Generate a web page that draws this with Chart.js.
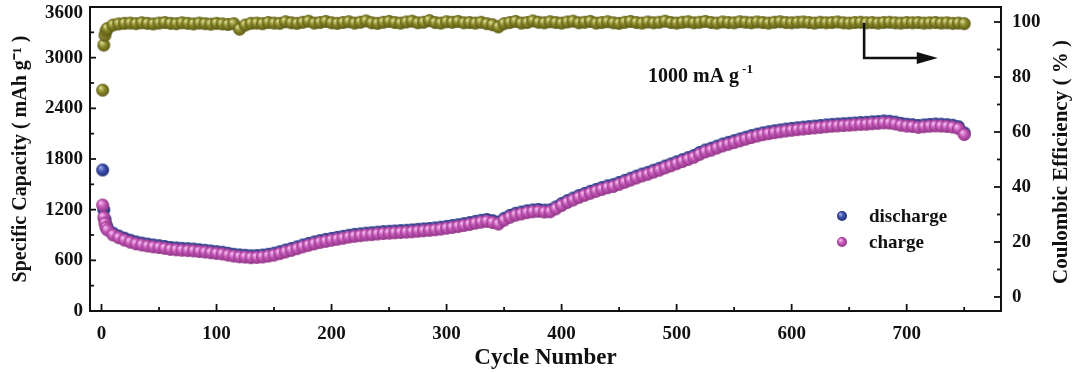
<!DOCTYPE html>
<html>
<head>
<meta charset="utf-8">
<script src="https://cdn.jsdelivr.net/npm/chart.js@4.4.1/dist/chart.umd.min.js"></script>
<style>
  html, body { margin: 0; padding: 0; background: #fff; }
  #wrap { width: 1080px; height: 372px; }
</style>
</head>
<body>
<div id="wrap"><canvas id="cycleChart"></canvas></div>
<script>
const cycles = [1, 2, 3, 4, 5,
  10, 15, 20, 25, 30, 35, 40, 45, 50, 55,
  60, 65, 70, 75, 80, 85, 90, 95, 100, 105,
  110, 115, 120, 125, 130, 135, 140, 145, 150, 155,
  160, 165, 170, 175, 180, 185, 190, 195, 200, 205,
  210, 215, 220, 225, 230, 235, 240, 245, 250, 255,
  260, 265, 270, 275, 280, 285, 290, 295, 300, 305,
  310, 315, 320, 325, 330, 335, 340, 345, 350, 355,
  360, 365, 370, 375, 380, 385, 390, 395, 400, 405,
  410, 415, 420, 425, 430, 435, 440, 445, 450, 455,
  460, 465, 470, 475, 480, 485, 490, 495, 500, 505,
  510, 515, 520, 525, 530, 535, 540, 545, 550, 555,
  560, 565, 570, 575, 580, 585, 590, 595, 600, 605,
  610, 615, 620, 625, 630, 635, 640, 645, 650, 655,
  660, 665, 670, 675, 680, 685, 690, 695, 700, 705,
  710, 715, 720, 725, 730, 735, 740, 745, 750];

// mAh g-1
const dischargeCap = [1670, 1200, 1085, 1020, 985,
  922, 888, 862, 838, 818, 804, 792, 782, 774, 764,
  752, 747, 742, 738, 733, 726, 719, 711, 703, 696,
  684, 672, 664, 660, 654, 657, 662, 672, 684, 702,
  722, 740, 760, 782, 800, 818, 834, 848, 860, 872,
  884, 897, 907, 914, 922, 927, 934, 940, 944, 948,
  952, 956, 960, 967, 972, 977, 984, 992, 1002, 1012,
  1022, 1034, 1047, 1062, 1074, 1084, 1070, 1052, 1097, 1132,
  1157, 1172, 1187, 1197, 1202, 1194, 1197, 1232, 1272, 1307,
  1337, 1367, 1392, 1417, 1440, 1462, 1482, 1497, 1522, 1547,
  1572, 1597, 1622, 1642, 1667, 1690, 1717, 1742, 1767, 1792,
  1817, 1842, 1877, 1907, 1927, 1952, 1977, 1997, 2017, 2037,
  2057, 2077, 2094, 2110, 2122, 2134, 2144, 2154, 2162, 2170,
  2177, 2184, 2190, 2197, 2204, 2210, 2214, 2218, 2222, 2227,
  2232, 2234, 2240, 2244, 2250, 2247, 2237, 2222, 2212, 2207,
  2197, 2204, 2210, 2214, 2212, 2207, 2200, 2182, 2110];

const chargeCap = [1255, 1110, 1040, 990, 960,
  900, 868, 840, 815, 795, 782, 770, 760, 752, 742,
  730, 725, 720, 716, 712, 705, 698, 690, 682, 675,
  662, 650, 642, 638, 632, 635, 640, 650, 662, 680,
  700, 718, 738, 760, 778, 795, 812, 825, 838, 850,
  862, 875, 885, 892, 900, 905, 912, 918, 922, 926,
  930, 934, 938, 945, 950, 955, 962, 970, 980, 990,
  1000, 1012, 1025, 1040, 1052, 1062, 1048, 1030, 1075, 1110,
  1135, 1150, 1165, 1175, 1180, 1172, 1175, 1210, 1250, 1285,
  1315, 1345, 1370, 1395, 1418, 1440, 1460, 1475, 1500, 1525,
  1550, 1575, 1600, 1620, 1645, 1668, 1695, 1720, 1745, 1770,
  1795, 1820, 1855, 1885, 1905, 1930, 1955, 1975, 1995, 2015,
  2035, 2055, 2072, 2088, 2100, 2112, 2122, 2132, 2140, 2148,
  2155, 2162, 2168, 2175, 2182, 2188, 2192, 2196, 2200, 2205,
  2210, 2212, 2218, 2222, 2228, 2225, 2215, 2200, 2190, 2185,
  2175, 2182, 2188, 2192, 2190, 2185, 2178, 2160, 2090];

// coulombic efficiency, %
const efficiency = [75.2, 91.6, 95.2, 96.8, 97.6,
  98.9, 99.3, 99.5, 99.6, 99.4, 99.7, 99.5, 99.3, 99.6, 99.8,
  99.5, 99.4, 99.7, 99.5, 99.3, 99.6, 99.4, 99.2, 99.5, 99.3,
  99.1, 99.4, 97.4, 98.9, 99.5, 99.6, 99.4, 99.8, 99.6, 99.5,
  100.1, 99.7, 99.5, 99.9, 100.3, 99.6, 99.8, 100.2, 99.7, 99.5,
  99.8, 100.1, 99.6, 99.9, 100.4, 99.7, 99.5, 99.9, 100.2, 99.8,
  99.6, 100.0, 100.3, 99.7, 99.9, 100.5, 99.8, 99.6, 100.1, 99.9,
  100.2, 99.7, 99.8, 99.6, 99.9, 99.4, 99.0, 98.2, 99.4, 99.8,
  100.2, 99.6, 99.8, 100.4, 99.9, 99.7, 100.1, 99.8, 99.6, 100.0,
  100.3, 99.7, 99.9, 100.2, 99.6, 99.8, 100.1, 99.7, 99.5, 99.9,
  100.2, 99.8, 99.6, 100.0, 99.7, 99.9, 100.3, 99.8, 99.6, 99.9,
  100.1, 99.7, 99.9, 100.2, 99.8, 99.6, 100.0, 99.8, 99.7, 100.1,
  99.9, 99.7, 100.0, 99.8, 99.6, 99.9, 100.1, 99.8, 99.7, 99.9,
  100.0, 99.8, 99.6, 99.9, 99.7, 99.8, 100.0, 99.7, 99.6, 99.8,
  99.9, 99.7, 99.8, 99.6, 99.8, 99.9, 99.7, 99.6, 99.8, 99.7,
  99.8, 99.6, 99.7, 99.8, 99.6, 99.7, 99.5, 99.6, 99.4];

const xTicks = [0, 100, 200, 300, 400, 500, 600, 700];
const xMinorTicks = [50, 150, 250, 350, 450, 550, 650, 750];
const capTicks = [0, 600, 1200, 1800, 2400, 3000, 3600];
const capMinorTicks = [300, 900, 1500, 2100, 2700, 3300];
const ceTicks = [0, 20, 40, 60, 80, 100];
const ceMinorTicks = [10, 30, 50, 70, 90];

const FONT = '"Liberation Serif", "Times New Roman", serif';

// shaded ball used as point marker
function makeBall(light, base, dark, r) {
    const size = Math.ceil(r * 2 + 2);
    const c = document.createElement('canvas');
    c.width = size; c.height = size;
    const g = c.getContext('2d');
    const cx = size / 2, cy = size / 2;
    const grad = g.createRadialGradient(cx - r * 0.35, cy - r * 0.4, r * 0.1, cx, cy, r);
    grad.addColorStop(0, light);
    grad.addColorStop(0.45, base);
    grad.addColorStop(1, dark);
    g.fillStyle = grad;
    g.beginPath();
    g.arc(cx, cy, r, 0, Math.PI * 2);
    g.fill();
    return c;
}

const blueBall = makeBall('#9aa6e6', '#3f54b0', '#1f2c74', 6.5);
const pinkBall = makeBall('#f2b8ec', '#c95bbb', '#8e3384', 6.5);
const oliveBall = makeBall('#d6d68a', '#8d8c2c', '#5a5914', 6.5);
const blueSmall = makeBall('#9aa6e6', '#3f54b0', '#1f2c74', 5);
const pinkSmall = makeBall('#f2b8ec', '#c95bbb', '#8e3384', 5);

function toPoints(ys) {
    return cycles.map((c, i) => ({ x: c, y: ys[i] }));
}

function fixedTicks(values) {
    return function(scale) {
        scale.ticks = values.map(v => ({ value: v }));
    };
}

// keep the plot box where the figure has it, labels may hang over
function noPad(scale) {
    scale.paddingTop = 0;
    scale.paddingBottom = 0;
    scale.paddingLeft = 0;
    scale.paddingRight = 0;
}

// frame, inward tick marks, legend and annotation
const decorations = {
    id: 'decorations',
    afterDraw(chart) {
        const { ctx, chartArea: a, scales } = chart;
        const x = scales.x, y = scales.y, y2 = scales.y2;
        ctx.save();
        ctx.strokeStyle = '#111';
        ctx.lineWidth = 2;
        ctx.strokeRect(a.left, a.top, a.right - a.left, a.bottom - a.top);

        ctx.lineWidth = 1.8;
        function seg(x1, y1, x2, y2p) {
            ctx.beginPath();
            ctx.moveTo(x1, y1);
            ctx.lineTo(x2, y2p);
            ctx.stroke();
        }
        xTicks.forEach(v => { const p = x.getPixelForValue(v); seg(p, a.bottom, p, a.bottom - 7); });
        xMinorTicks.forEach(v => { const p = x.getPixelForValue(v); seg(p, a.bottom, p, a.bottom - 4); });
        capTicks.forEach(v => { const p = y.getPixelForValue(v); seg(a.left, p, a.left + 6, p); });
        capMinorTicks.forEach(v => { const p = y.getPixelForValue(v); seg(a.left, p, a.left + 4, p); });
        ceTicks.forEach(v => { const p = y2.getPixelForValue(v); seg(a.right, p, a.right - 7, p); });
        ceMinorTicks.forEach(v => { const p = y2.getPixelForValue(v); seg(a.right, p, a.right - 4, p); });

        ctx.fillStyle = '#111';
        ctx.textBaseline = 'middle';

        // top capacity label sits a little below its tick, as in the figure
        const topCap = capTicks[capTicks.length - 1];
        ctx.font = 'bold 19px ' + FONT;
        ctx.textAlign = 'right';
        ctx.fillText(String(topCap), a.left - 7, y.getPixelForValue(topCap) + 6);

        // legend
        ctx.textAlign = 'left';
        ctx.drawImage(blueSmall, 842 - blueSmall.width / 2, 216 - blueSmall.height / 2);
        ctx.fillText('discharge', 869, 217);
        ctx.drawImage(pinkSmall, 842 - pinkSmall.width / 2, 242 - pinkSmall.height / 2);
        ctx.fillText('charge', 869, 243);

        // current density label
        ctx.font = 'bold 20px ' + FONT;
        ctx.fillText('1000 mA g', 648, 77);
        const w = ctx.measureText('1000 mA g ').width;
        ctx.font = 'bold 13px ' + FONT;
        ctx.fillText('-1', 648 + w - 2, 70);

        // right axis title, reads bottom to top
        ctx.save();
        ctx.font = 'bold 21px ' + FONT;
        ctx.textAlign = 'center';
        ctx.translate(1062, (a.top + a.bottom) / 2 + 3);
        ctx.rotate(-Math.PI / 2);
        ctx.fillText('Coulombic Efficiency ( % )', 0, 0);
        ctx.restore();

        // arrow pointing to the right axis
        const ax = x.getPixelForValue(663);
        const ay0 = y2.getPixelForValue(99.6);
        const ay1 = y2.getPixelForValue(86.9);
        const tip = x.getPixelForValue(727);
        ctx.lineWidth = 2.6;
        ctx.beginPath();
        ctx.moveTo(ax, ay0);
        ctx.lineTo(ax, ay1);
        ctx.lineTo(tip - 18, ay1);
        ctx.stroke();
        ctx.beginPath();
        ctx.moveTo(tip, ay1);
        ctx.lineTo(tip - 21, ay1 - 6);
        ctx.lineTo(tip - 21, ay1 + 6);
        ctx.closePath();
        ctx.fill();
        ctx.restore();
    }
};

const tickFont = { family: FONT, size: 19, weight: 'bold' };
const plainNumber = v => String(v);
const noGrid = { display: false, drawTicks: false, tickLength: 0 };

const ctx = document.getElementById('cycleChart').getContext('2d');
const chart = new Chart(ctx, {
    type: 'scatter',
    data: {
        datasets: [
            {
                label: 'charge',
                data: toPoints(chargeCap),
                yAxisID: 'y',
                pointStyle: pinkBall,
                order: 1
            },
            {
                label: 'discharge',
                data: toPoints(dischargeCap),
                yAxisID: 'y',
                pointStyle: blueBall,
                order: 2
            },
            {
                label: 'Coulombic Efficiency',
                data: toPoints(efficiency),
                yAxisID: 'y2',
                pointStyle: oliveBall,
                order: 3
            }
        ]
    },
    options: {
        responsive: true,
        maintainAspectRatio: false,
        animation: false,
        layout: { padding: { top: 7, left: 0, right: 0, bottom: 0 } },
        plugins: {
            legend: { display: false },
            tooltip: { enabled: false }
        },
        scales: {
            x: {
                type: 'linear',
                min: -10,
                max: 782,
                afterBuildTicks: fixedTicks(xTicks),
                afterFit: scale => { noPad(scale); scale.height = 61; },
                grid: noGrid,
                border: { display: false },
                ticks: { color: '#111', padding: 12, font: tickFont, callback: plainNumber },
                title: {
                    display: true,
                    text: 'Cycle Number',
                    color: '#111',
                    padding: { top: 0, bottom: 0 },
                    font: { family: FONT, size: 23, weight: 'bold' }
                }
            },
            y: {
                position: 'left',
                min: 0,
                max: 3600,
                afterBuildTicks: fixedTicks(capTicks),
                afterFit: scale => { noPad(scale); scale.width = 90; },
                grid: noGrid,
                border: { display: false },
                ticks: {
                    color: '#111',
                    padding: 7,
                    font: tickFont,
                    // the top label is drawn by the plugin, shifted down
                    callback: v => (v === 3600 ? '' : String(v))
                },
                title: {
                    display: true,
                    text: 'Specific Capacity ( mAh g\u207B\u00B9 )',
                    color: '#111',
                    padding: { top: 9, bottom: 0 },
                    font: { family: FONT, size: 20, weight: 'bold' }
                }
            },
            y2: {
                position: 'right',
                min: -5.1,
                max: 105.45,
                afterBuildTicks: fixedTicks(ceTicks),
                afterFit: scale => { noPad(scale); scale.width = 79; },
                grid: noGrid,
                border: { display: false },
                ticks: { color: '#111', padding: 11, font: tickFont, callback: plainNumber }
            }
        }
    },
    plugins: [decorations]
});
</script>
</body>
</html>
